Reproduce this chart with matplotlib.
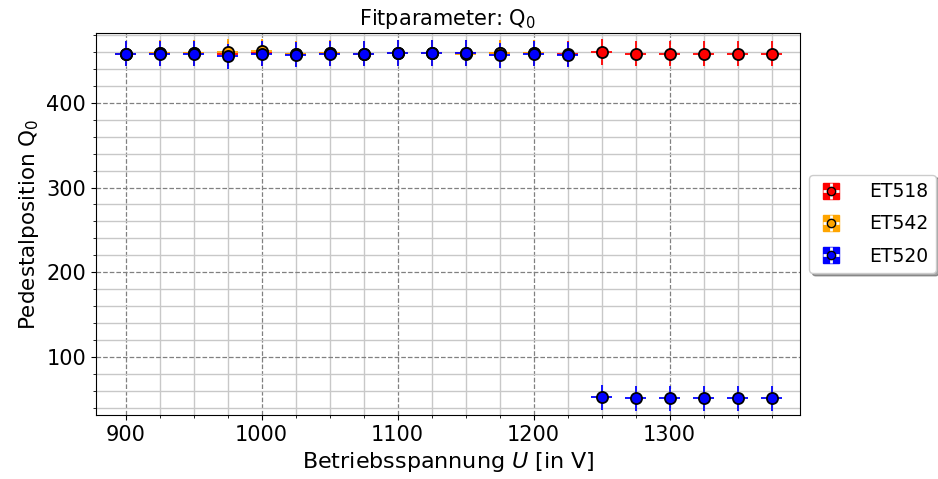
import matplotlib
matplotlib.use('Agg')
import matplotlib.pyplot as plt
from matplotlib.lines import Line2D
from matplotlib.ticker import MultipleLocator

# Betriebsspannungen [V]
u_et518 = [900, 925, 950, 975, 1000, 1025, 1050, 1075, 1100, 1125, 1150, 1175,
           1200, 1225, 1250, 1275, 1300, 1325, 1350, 1375]
q0_et518 = [458, 459, 459, 458, 459, 458, 459, 458, 459, 459, 459, 459,
            459, 458, 460, 458, 458, 458, 458, 458]

u_et542 = [900, 925, 950, 975, 1000, 1025, 1050, 1075, 1100, 1125, 1150, 1175, 1200]
q0_et542 = [458, 459, 459, 460, 461, 458, 459, 458, 459, 459, 458, 459, 459]

u_et520 = [900, 925, 950, 975, 1000, 1025, 1050, 1075, 1100, 1125, 1150, 1175,
           1200, 1225, 1250, 1275, 1300, 1325, 1350, 1375]
q0_et520 = [458, 458, 458, 455, 458, 457, 458, 458, 459, 459, 459, 456,
            458, 457, 52, 51, 51, 51, 51, 51]

u_err = 8
q0_err = 15

series = [
    ("ET518", u_et518, q0_et518, "red"),
    ("ET542", u_et542, q0_et542, "orange"),
    ("ET520", u_et520, q0_et520, "blue"),
]

fig = plt.figure(figsize=(9.38, 4.79), dpi=100)
ax = fig.add_axes([0.102, 0.134, 0.751, 0.797])

handles = []
for name, u, q, col in series:
    ax.errorbar(u, q, xerr=u_err, yerr=q0_err, fmt='o', color=col,
                mfc=col, mec='black', ms=8, mew=1.3, elinewidth=1.3,
                capsize=0, zorder=3)
    # Legendensymbol: farbiges Kästchen mit weißem Kreuz und Marker
    h = (Line2D([], [], ls='', marker='s', ms=11, mfc=col, mec=col),
         Line2D([], [], ls='', marker='+', ms=11, mew=2, color='white'),
         Line2D([], [], ls='', marker='o', ms=6, mfc=col, mec='black'))
    handles.append(h)

ax.set_xlim(878, 1396)
ax.set_ylim(31.5, 482.5)
ax.xaxis.set_minor_locator(MultipleLocator(25))
ax.yaxis.set_minor_locator(MultipleLocator(20))
ax.grid(which='major', color='gray', linestyle='--', linewidth=0.9)
ax.grid(which='minor', color='#c8c8c8', linestyle='-', linewidth=1.0)
ax.set_axisbelow(True)

ax.tick_params(labelsize=15)
ax.set_xlabel("Betriebsspannung $U$ [in V]", fontsize=16)
ax.set_ylabel("Pedestalposition Q$_0$", fontsize=15.5)
ax.set_title("Fitparameter: Q$_0$", fontsize=15)

ax.legend(handles, [s[0] for s in series], loc='center left',
          bbox_to_anchor=(1.0, 0.5), fontsize=13.5, shadow=True,
          handlelength=1.5, handletextpad=1.3, labelspacing=0.7)

fig.savefig("out.png", dpi=100)
